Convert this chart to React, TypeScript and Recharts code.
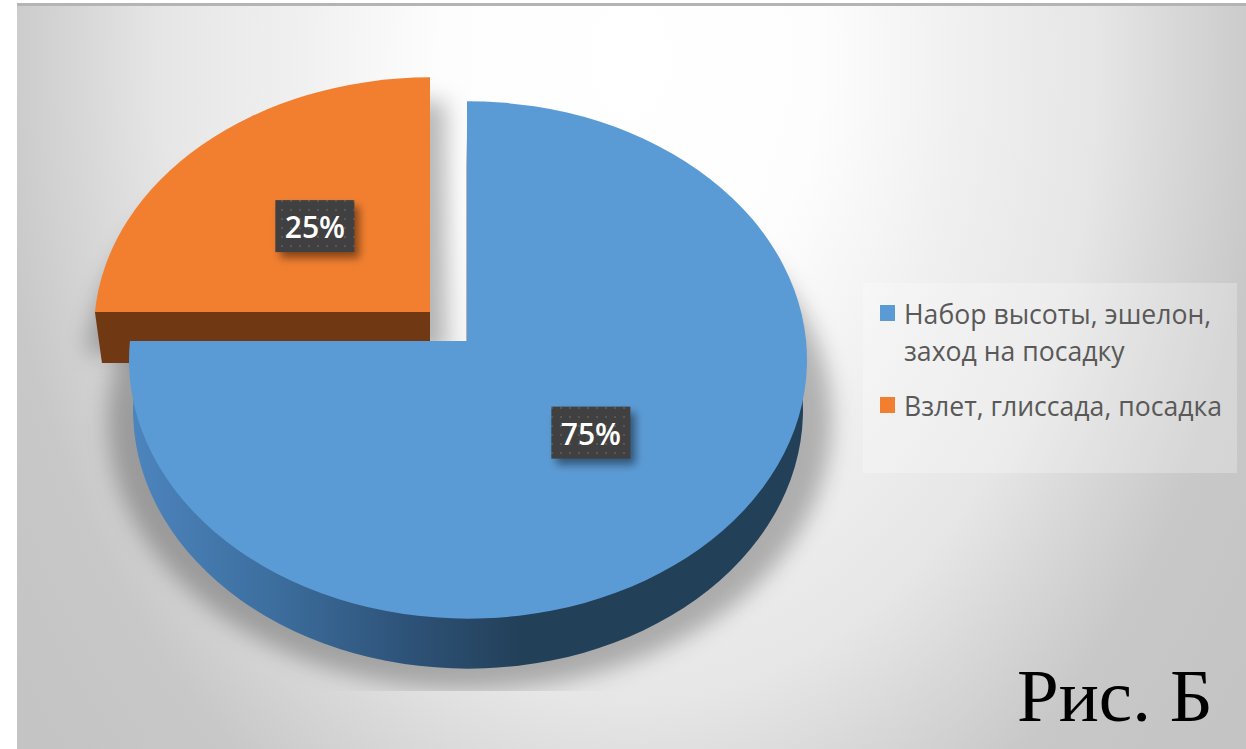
import React from 'react';
import { PieChart, Pie, Legend } from 'recharts';

const categories = ['Набор высоты, эшелон, заход на посадку', 'Взлет, глиссада, посадка'];
const shares = [75, 25];
const colors = ['#5b9bd5', '#f27f30'];
const explodedCategory = categories[1];

const WIDTH = 1246;
const HEIGHT = 749;

// the tilted disc: ry/rx ratio, how far the apex sits above the ellipse centre, wall height
const TILT = 0.763;
const APEX_DROP = 19;
const WALL = 50;

// later slices paint on top, so the pulled-out slice goes first
const pieData = categories
  .map((name, i) => ({ name, value: shares[i], fill: colors[i] }))
  .reverse();

type Disc = { ax: number; ay: number; ex: number; ey: number; rx: number; ry: number };

const makeDisc = (cx: number, cy: number, r: number, exploded: boolean): Disc => {
  if (exploded) {
    return { ax: cx - 37, ay: cy - 29, ex: cx - 36, ey: cy - 10, rx: r - 2, ry: r * TILT - 5 };
  }
  return { ax: cx, ay: cy, ex: cx + 1, ey: cy + APEX_DROP, rx: r, ry: r * TILT };
};

// where the ray from the apex at a polar angle meets the rim
const rimPoint = (d: Disc, angle: number) => {
  const a = (angle * Math.PI) / 180;
  const ux = (d.ax - d.ex) / d.rx;
  const uy = (d.ay - d.ey) / d.ry;
  const dx = Math.cos(a);
  const dy = -Math.sin(a);
  const b = ux * dx + uy * dy;
  const t = -b + Math.sqrt(b * b - ux * ux - uy * uy + 1);
  return { x: d.ex + (ux + t * dx) * d.rx, y: d.ey + (uy + t * dy) * d.ry };
};

const slicePath = (d: Disc, start: number, end: number) => {
  const p0 = rimPoint(d, start);
  const p1 = rimPoint(d, end);
  const large = Math.abs(start - end) > 180 ? 1 : 0;
  return `M${d.ax},${d.ay} L${p0.x},${p0.y} A${d.rx},${d.ry} 0 ${large} 1 ${p1.x},${p1.y} Z`;
};

const Slice3D = (props: any) => {
  const { cx, cy, outerRadius, startAngle, endAngle, fill, name } = props;
  const exploded = name === explodedCategory;
  const top = makeDisc(cx, cy, outerRadius, exploded);
  const topPath = slicePath(top, startAngle, endAngle);

  if (exploded) {
    const rimEnd = rimPoint(top, startAngle);
    const wall = `M${rimEnd.x},${rimEnd.y} L${top.ax},${top.ay} L${top.ax},${top.ay + WALL + 1} L${rimEnd.x + 7},${rimEnd.y + WALL + 1} Z`;
    const shadow = {
      ...top,
      ax: top.ax + 16,
      ay: top.ay + 42,
      ex: top.ex + 10,
      ey: top.ey + 42,
      rx: top.rx + 18,
      ry: top.ry + 18,
    };
    return (
      <g>
        <path d={slicePath(shadow, startAngle, endAngle)} fill="#000" fillOpacity={0.27} filter="url(#softShadow)" />
        <path d={wall} fill="#703813" />
        <path d={topPath} fill={fill} />
      </g>
    );
  }

  const base: Disc = { ...top, ay: top.ay + WALL, ey: top.ey + WALL, rx: top.rx - 4 };
  return (
    <g>
      <g clipPath="url(#shadowClip)">
        <ellipse
          cx={top.ex + 2}
          cy={top.ey + WALL + 9}
          rx={top.rx + 23}
          ry={top.ry + 12}
          fill="#000"
          fillOpacity={0.27}
          filter="url(#softShadow)"
        />
      </g>
      <path d={slicePath(base, startAngle, endAngle)} fill="url(#wallShade)" />
      <path d={topPath} fill={fill} />
    </g>
  );
};

const ShareLabel = (props: any) => {
  const { cx, cy, outerRadius, midAngle, value, name } = props;
  const disc = makeDisc(cx, cy, outerRadius, name === explodedCategory);
  const a = (midAngle * Math.PI) / 180;
  const x = disc.ax + 0.5 * disc.rx * Math.cos(a) + 4;
  const y = disc.ay - 0.49 * disc.ry * Math.sin(a) + 2;
  const w = 79;
  const h = 52;
  return (
    <g>
      <rect x={x - w / 2 + 5} y={y - h / 2 + 6} width={w} height={h} fill="#000" fillOpacity={0.45} filter="url(#labelShadow)" />
      <rect x={x - w / 2} y={y - h / 2} width={w} height={h} fill="#404040" />
      <rect x={x - w / 2} y={y - h / 2} width={w} height={h} fill="url(#labelDots)" />
      <text
        x={x}
        y={y + 12}
        textAnchor="middle"
        fill="#fff"
        fontFamily="'Open Sans', sans-serif"
        fontWeight={600}
        fontSize={30}
      >
        {value}%
      </text>
    </g>
  );
};

const LegendBox = ({ payload }: any) => {
  const items = [...(payload || [])].reverse();
  return (
    <div
      style={{
        width: 374,
        height: 190,
        boxSizing: 'border-box',
        padding: '13px 0 0 17px',
        background: 'rgba(255,255,255,0.25)',
        fontFamily: "'Open Sans', sans-serif",
        fontSize: 26.6,
        lineHeight: '37px',
        color: '#595959',
      }}
    >
      {items.map((item: any) => (
        <div key={item.value} style={{ display: 'flex', marginBottom: 18, width: 352 }}>
          <div style={{ width: 15, height: 16, marginTop: 9, marginRight: 9, flex: 'none', background: item.color }} />
          <div>{item.value}</div>
        </div>
      ))}
    </div>
  );
};

export default function App() {
  return (
    <div style={{ position: 'absolute', left: 0, top: 0, width: WIDTH, height: HEIGHT, background: '#fff', overflow: 'hidden' }}>
      <div
        style={{
          position: 'absolute',
          left: 17,
          top: 3,
          right: 0,
          bottom: 0,
          borderTop: '3px solid #b4b4b4',
          background:
            'radial-gradient(ellipse 768px 1056px at 613px 54px, #ffffff 0%, #fdfdfd 25%, #f0f0f0 43%, #e6e6e6 61%, #d8d8d8 71%, #c8c8c8 83%, #c4c4c4 100%)',
        }}
      />
      <div style={{ position: 'absolute', left: 0, top: 0 }}>
        <PieChart width={WIDTH} height={HEIGHT} margin={{ top: 0, right: 0, bottom: 0, left: 0 }}>
          <defs>
            <filter id="softShadow" x="-20%" y="-20%" width="140%" height="140%">
              <feGaussianBlur stdDeviation="11" />
            </filter>
            <filter id="labelShadow" x="-30%" y="-30%" width="160%" height="160%">
              <feGaussianBlur stdDeviation="4" />
            </filter>
            {/* keeps the disc shadow off the pulled-out slice and cuts it at the plot bottom */}
            <clipPath id="shadowClip">
              <path d={`M466,0 H${WIDTH} V691 H0 V363 H466 Z`} />
            </clipPath>
            <linearGradient id="wallShade" gradientUnits="userSpaceOnUse" x1={134} y1={0} x2={520} y2={0}>
              <stop offset="0%" stopColor="#4c84bd" />
              <stop offset="35%" stopColor="#3d6f9f" />
              <stop offset="70%" stopColor="#2e5379" />
              <stop offset="100%" stopColor="#234059" />
            </linearGradient>
            <pattern id="labelDots" width="9" height="9" patternUnits="userSpaceOnUse">
              <circle cx="3" cy="3" r="1" fill="#fff" fillOpacity={0.16} />
            </pattern>
          </defs>
          <Pie
            data={pieData}
            dataKey="value"
            nameKey="name"
            cx={467}
            cy={341}
            outerRadius={339}
            startAngle={180}
            endAngle={-180}
            stroke="none"
            shape={Slice3D}
            label={ShareLabel}
            labelLine={false}
            isAnimationActive={false}
          />
          <Legend
            layout="vertical"
            align="right"
            verticalAlign="top"
            content={LegendBox}
            wrapperStyle={{ left: 863, top: 283, width: 374, right: 'auto', bottom: 'auto' }}
          />
          <text x={1017} y={721} fontFamily="'Liberation Serif', serif" fontSize={75} fill="#000">
            Рис. Б
          </text>
        </PieChart>
      </div>
    </div>
  );
}
